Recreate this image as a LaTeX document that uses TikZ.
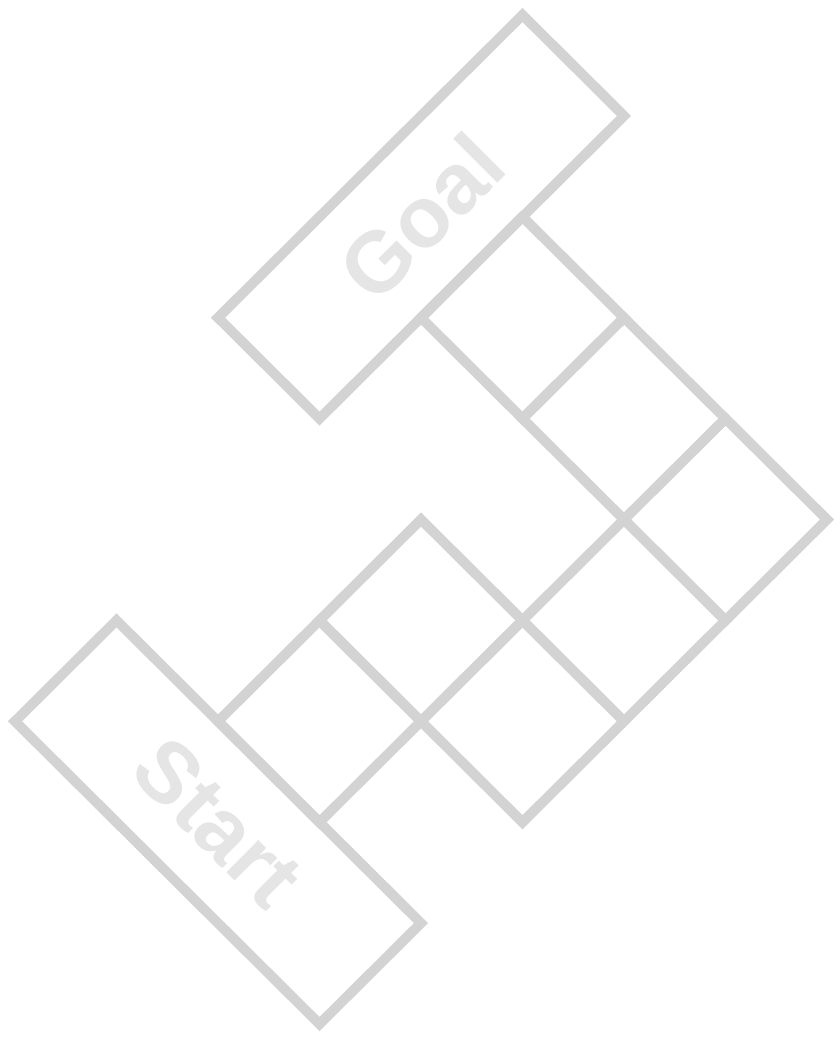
\documentclass[tikz,border=0pt]{standalone}
\usepackage{fontspec}
\setmainfont{Liberation Sans}
\definecolor{cellline}{HTML}{D3D3D3}
\definecolor{labeltext}{HTML}{E5E5E5}
\begin{document}
\begin{tikzpicture}[x=1pt,y=-1pt]
\useasboundingbox (0,0) rectangle (840,1042);
\begin{scope}[shift={(15pt,-15pt)}, x=101.5pt, y=-100.9pt,
  cell/.style={draw=cellline, line width=10pt, line join=miter},
  boardlabel/.style={text=labeltext, inner sep=0pt, font=\bfseries\fontsize{86}{86}\selectfont}]
% Goal area
\draw[cell] (5,0) -- (6,1) -- (3,4) -- (2,3) -- cycle;
% squares
\draw[cell] (5,2) -- (6,3) -- (5,4) -- (4,3) -- cycle;
\draw[cell] (6,3) -- (7,4) -- (6,5) -- (5,4) -- cycle;
\draw[cell] (7,4) -- (8,5) -- (7,6) -- (6,5) -- cycle;
\draw[cell] (6,5) -- (7,6) -- (6,7) -- (5,6) -- cycle;
\draw[cell] (4,5) -- (5,6) -- (4,7) -- (3,6) -- cycle;
\draw[cell] (5,6) -- (6,7) -- (5,8) -- (4,7) -- cycle;
\draw[cell] (3,6) -- (4,7) -- (3,8) -- (2,7) -- cycle;
% Start area
\draw[cell] (1,6) -- (4,9) -- (3,10) -- (0,7) -- cycle;
% labels
\node[boardlabel, rotate=45] (goal) at (4,2) {Goal};
\node[boardlabel, rotate=-45] (start) at (2,8) {Start};
\end{scope}
\end{tikzpicture}
\end{document}
